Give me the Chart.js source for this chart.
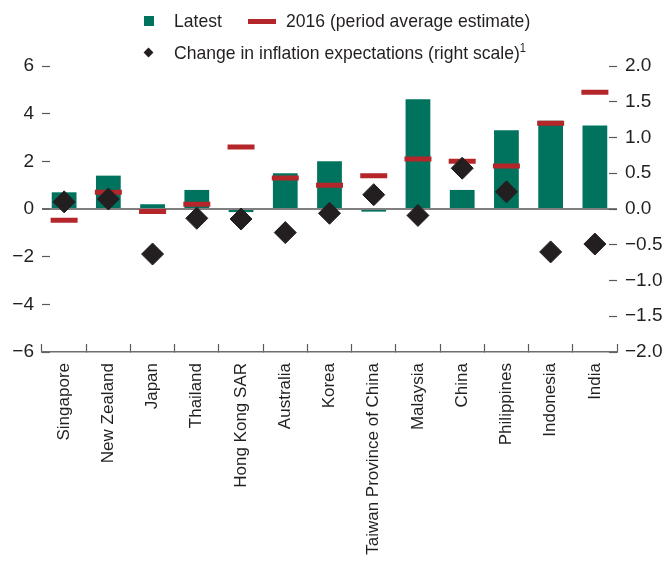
<!DOCTYPE html>
<html>
<head>
<meta charset="utf-8">
<script src="https://cdn.jsdelivr.net/npm/chart.js@4"></script>
<style>
  body { margin: 0; background: #fff; }
  #wrap { position: relative; width: 670px; height: 562px; }
  .lg { position: absolute; font-family: "Liberation Sans Narrow", "Arial Narrow", "Liberation Sans", sans-serif; font-size: 19px; color: #231f20; line-height: 22px; white-space: nowrap; transform-origin: left center; }
  .lg.sq { transform: scaleX(0.925); }
  .lg sup { font-size: 12px; line-height: 0; vertical-align: 7px; }
</style>
</head>
<body>
<div id="wrap">
  <canvas id="chart"></canvas>
  <div style="position:absolute;left:144px;top:16px;width:10px;height:10px;background:#00735f"></div>
  <div class="lg sq" style="left:174px;top:10px">Latest</div>
  <div style="position:absolute;left:248px;top:19px;width:28px;height:5px;background:#b5262b"></div>
  <div class="lg sq" style="left:286px;top:10px">2016 (period average estimate)</div>
  <div style="position:absolute;left:145px;top:49px;width:7px;height:7px;background:#231f20;transform:rotate(45deg)"></div>
  <div class="lg sq" style="left:174px;top:42px">Change in inflation expectations (right scale)<sup>1</sup></div>
</div>
<script>
// datos
const countries = ['Singapore', 'New Zealand', 'Japan', 'Thailand', 'Hong Kong SAR', 'Australia', 'Korea',
    'Taiwan Province of China', 'Malaysia', 'China', 'Philippines', 'Indonesia', 'India'];
const latest = [0.7, 1.4, 0.2, 0.8, -0.13, 1.5, 2.0, -0.11, 4.6, 0.8, 3.3, 3.7, 3.5];
const avg2016 = [-0.47, 0.7, -0.1, 0.2, 2.6, 1.3, 1.0, 1.4, 2.1, 2.0, 1.8, 3.6, 4.9];
const expChange = [0.10, 0.14, -0.63, -0.13, -0.14, -0.33, -0.06, 0.20, -0.09, 0.57, 0.24, -0.60, -0.49];
const leftTicks = [-6, -4, -2, 0, 2, 4, 6];
const rightTicks = [-2, -1.5, -1, -0.5, 0, 0.5, 1, 1.5, 2];

const FONT = '"Liberation Sans Narrow", "Arial Narrow", "Liberation Sans", sans-serif';
const TEXT = '#231f20';
const TICK = '#58595b';
const minus = s => String(s).replace('-', '\u2212');

new Chart(document.getElementById('chart'), {
    type: 'bar',
    data: {
        labels: countries,
        datasets: [
            {
                label: 'Change in inflation expectations (right scale)',
                type: 'line',
                data: expChange,
                yAxisID: 'y1',
                showLine: false,
                pointStyle: 'rectRot',
                pointRadius: 11,
                backgroundColor: TEXT,
                borderColor: TEXT,
                borderWidth: 1,
                order: 0
            },
            {
                label: '2016 (period average estimate)',
                type: 'line',
                data: avg2016,
                yAxisID: 'y',
                showLine: false,
                pointStyle: 'line',
                pointRadius: 13.5,
                borderColor: '#b5262b',
                borderWidth: 5,
                order: 1
            },
            {
                label: 'Latest',
                data: latest,
                yAxisID: 'y',
                backgroundColor: '#00735f',
                barPercentage: 0.56,
                categoryPercentage: 1,
                order: 2
            }
        ]
    },
    options: {
        responsive: true,
        maintainAspectRatio: false,
        animation: false,
        events: [],
        layout: { padding: { top: 66, left: 0, right: 0, bottom: 0 } },
        plugins: { legend: { display: false }, tooltip: { enabled: false } },
        scales: {
            x: {
                offset: true,
                border: { display: true, color: '#6d6e71', width: 1.5 },
                grid: { offset: true, drawOnChartArea: false, tickLength: -8, tickColor: TICK, tickWidth: 1.2 },
                ticks: { minRotation: 90, maxRotation: 90, autoSkip: false, padding: 19, color: TEXT, font: { family: FONT, size: 17 } },
                afterFit: s => { s.height = 210; }
            },
            y: {
                position: 'left',
                min: -6, max: 6,
                z: 1,
                border: { display: false },
                grid: {
                    color: c => c.tick.value === 0 ? '#7f7f7f' : 'rgba(0,0,0,0)',
                    lineWidth: c => c.tick.value === 0 ? 2 : 1,
                    tickLength: -8, tickColor: TICK, tickWidth: 1.2
                },
                afterBuildTicks: s => { s.ticks = leftTicks.map(v => ({ value: v })); },
                ticks: { padding: 16, color: TEXT, font: { family: FONT, size: 19 }, callback: v => minus(v) },
                afterFit: s => { s.width = 42; }
            },
            y1: {
                position: 'right',
                min: -2, max: 2,
                border: { display: false },
                grid: { drawOnChartArea: false, tickLength: -8, tickColor: TICK, tickWidth: 1.2 },
                afterBuildTicks: s => { s.ticks = rightTicks.map(v => ({ value: v })); },
                ticks: { padding: 16, color: TEXT, font: { family: FONT, size: 19 }, callback: v => minus(v.toFixed(1)) },
                afterFit: s => { s.width = 53; }
            }
        }
    }
});
</script>
</body>
</html>
